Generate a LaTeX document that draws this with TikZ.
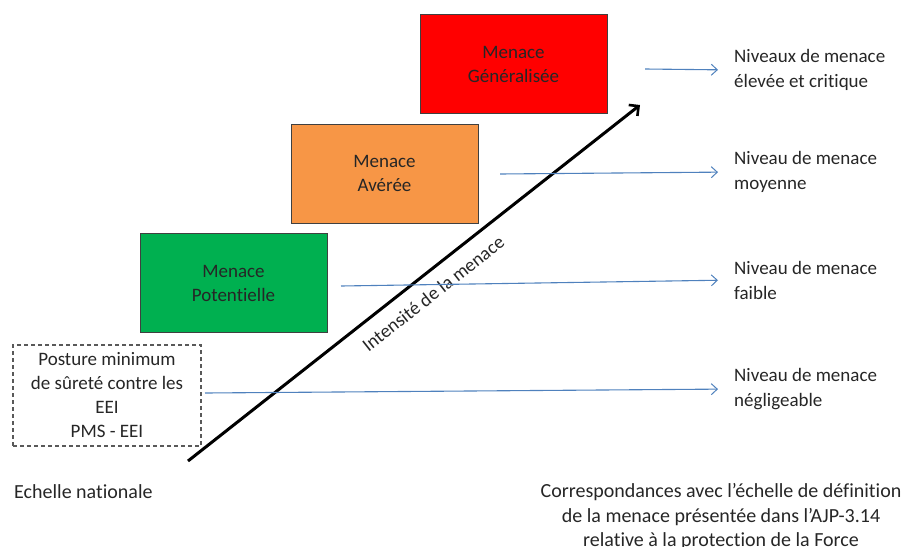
\documentclass[tikz,border=0pt]{standalone}
\usepackage{fontspec}
\setmainfont{Carlito}[Ligatures=NoCommon]
\usetikzlibrary{arrows.meta}
\definecolor{boxred}{HTML}{FF0000}
\definecolor{boxorange}{HTML}{F79646}
\definecolor{boxgreen}{HTML}{00B050}
\definecolor{linkblue}{HTML}{4F81BD}
\definecolor{edgegray}{HTML}{404040}
\definecolor{dashgray}{HTML}{595959}
\definecolor{txt}{HTML}{262626}
\begin{document}
\begin{tikzpicture}[x=1pt,y=-1pt,
  levelbox/.style={draw=edgegray, line width=1pt, minimum width=187pt, minimum height=99pt,
    align=center, font=\fontsize{19}{24}\selectfont, text=txt, inner sep=0pt},
  sidelabel/.style={anchor=west, align=left, font=\fontsize{19}{25}\selectfont, text=txt, inner sep=0pt},
  plain/.style={align=center, font=\fontsize{20}{24.5}\selectfont, text=txt, inner sep=0pt},
  bluearrow/.style={draw=linkblue, line width=1.1pt, -{Straight Barb[length=6pt,width=11pt,line width=1pt]}, shorten >=16pt},
  bigarrow/.style={draw=black, line width=3pt, -{Straight Barb[length=7pt,width=14pt,line width=2.6pt]}}]
\useasboundingbox (0,0) rectangle (909,546);

% level boxes
\node[levelbox, fill=boxred]    (gen) at (513.5,64) {Menace\\Généralisée};
\node[levelbox, fill=boxorange] (ave) at (384.5,173.5)  {Menace\\Avérée};
\node[levelbox, fill=boxgreen]  (pot) at (233.5,283) {Menace\\Potentielle};
\node[levelbox, draw=dashgray, line width=1.2pt, dash pattern=on 4pt off 3pt,
      minimum width=188pt, minimum height=101pt] (pms) at (107,395.5)
      {Posture minimum\\de sûreté contre les\\EEI\\PMS - EEI};

% main arrow
\coordinate (a0) at (188,461);
\coordinate (a1) at (640,105);
\draw[bigarrow] (a0) -- (a1)
  node[pos=0.515, sloped, below=12pt, font=\fontsize{19}{22}\selectfont, text=txt, inner sep=0pt]
  (intens) {Intensité de la menace};

% right labels
\node[sidelabel] (lab1) at (734,70)  {Niveaux de menace\\élevée et critique};
\node[sidelabel] (lab2) at (734,172) {Niveau de menace\\moyenne};
\node[sidelabel] (lab3) at (734,280) {Niveau de menace\\faible};
\node[sidelabel] (lab4) at (734,389) {Niveau de menace\\négligeable};

% blue correspondence arrows
\coordinate (s1) at (645,69);
\coordinate (s2) at (500,174);
\coordinate (s3) at (341,286);
\coordinate (s4) at (205,393);
\draw[bluearrow] (s1) -- (lab1.west);
\draw[bluearrow] (s2) -- (lab2.west);
\draw[bluearrow] (s3) -- (lab3.west);
\draw[bluearrow] (s4) -- (lab4.west);

% bottom texts
\node[plain, anchor=west] (nat) at (14,492) {Echelle nationale};
\node[plain] (corr) at (721,517) {Correspondances avec l’échelle de définition\\de la menace présentée dans l’AJP-3.14\\relative à la protection de la Force};
\end{tikzpicture}
\end{document}
